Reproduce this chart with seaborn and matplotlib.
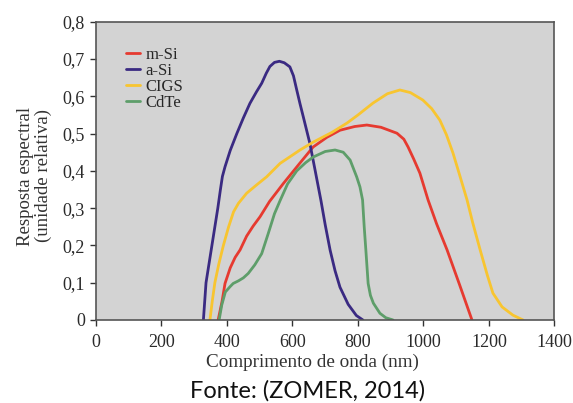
import pandas as pd
import matplotlib.pyplot as plt
import matplotlib.ticker as mticker
import seaborn as sns

# --- Data (wavelength nm, relative response) ---
msi_nm = [373, 385, 394, 410, 425, 440, 460, 480, 501, 530, 572, 620, 663, 705, 745, 790, 827, 870, 919, 940, 953, 970, 989, 1014, 1040, 1072, 1110, 1148]
msi_val = [0.0, 0.05, 0.098, 0.14, 0.168, 0.188, 0.225, 0.252, 0.277, 0.318, 0.366, 0.418, 0.464, 0.49, 0.509, 0.519, 0.523, 0.517, 0.501, 0.485, 0.464, 0.432, 0.394, 0.322, 0.258, 0.188, 0.095, 0.0]

asi_nm = [328, 336, 345, 354, 363, 372, 380, 386, 394, 410, 430, 450, 470, 490, 506, 520, 531, 545, 560, 575, 592, 603, 613, 623, 633, 653, 669, 687, 700, 715, 730, 745, 770, 795, 815]
asi_val = [0.0, 0.1, 0.15, 0.2, 0.25, 0.3, 0.35, 0.385, 0.411, 0.455, 0.5, 0.542, 0.581, 0.612, 0.635, 0.662, 0.68, 0.691, 0.694, 0.69, 0.679, 0.655, 0.617, 0.58, 0.545, 0.474, 0.402, 0.32, 0.255, 0.187, 0.132, 0.088, 0.042, 0.012, 0.0]

cigs_nm = [348, 355, 363, 375, 389, 405, 420, 435, 460, 490, 521, 562, 623, 663, 720, 766, 800, 846, 890, 928, 960, 998, 1025, 1050, 1070, 1090, 1110, 1133, 1150, 1173, 1195, 1212, 1240, 1273, 1304]
cigs_val = [0.0, 0.05, 0.1, 0.15, 0.2, 0.25, 0.29, 0.313, 0.34, 0.362, 0.384, 0.42, 0.456, 0.477, 0.503, 0.528, 0.55, 0.582, 0.607, 0.617, 0.61, 0.59, 0.567, 0.536, 0.497, 0.448, 0.39, 0.322, 0.262, 0.188, 0.12, 0.072, 0.035, 0.013, 0.0]

cdte_nm = [376, 384, 395, 409, 419, 435, 450, 465, 485, 506, 526, 545, 562, 585, 613, 640, 663, 700, 730, 755, 776, 796, 806, 814, 819, 824, 831, 838, 847, 867, 885, 907]
cdte_val = [0.0, 0.04, 0.075, 0.089, 0.098, 0.105, 0.113, 0.125, 0.148, 0.178, 0.232, 0.285, 0.32, 0.365, 0.40, 0.422, 0.437, 0.452, 0.456, 0.45, 0.429, 0.384, 0.357, 0.322, 0.25, 0.188, 0.098, 0.066, 0.045, 0.018, 0.006, 0.0]

series_names = ["m-Si", "a-Si", "CIGS", "CdTe"]
series_colors = ["#e63a30", "#3a2a82", "#f8c530", "#5e9e6a"]

frames = []
for name, xs, ys in zip(series_names,
                        [msi_nm, asi_nm, cigs_nm, cdte_nm],
                        [msi_val, asi_val, cigs_val, cdte_val]):
    frames.append(pd.DataFrame({"nm": xs, "val": ys, "cell": name}))
df = pd.concat(frames, ignore_index=True)

sns.set_style("ticks")
plt.rcParams["font.family"] = ["Liberation Serif", "DejaVu Serif"]

fig = plt.figure(figsize=(5.73, 4.03), dpi=100)
ax = fig.add_axes([0.1675, 0.206, 0.8002, 0.740])
ax.set_facecolor("#d3d3d3")

sns.lineplot(data=df, x="nm", y="val", hue="cell", hue_order=series_names,
             palette=series_colors, sort=False, estimator=None, units="cell",
             linewidth=2.0, ax=ax)

ax.set_xlim(0, 1400)
ax.set_ylim(0, 0.8)
ax.set_xticks(range(0, 1401, 200))
ax.set_yticks([i / 10 for i in range(9)])
ax.yaxis.set_major_formatter(mticker.FuncFormatter(
    lambda v, p: "0" if abs(v) < 1e-9 else f"{v:.1f}".replace(".", ",")))
ax.tick_params(direction="out", length=4, width=1, colors="#333333",
               labelsize=13, labelcolor="#2a2a2a")
ax.tick_params(axis="x", pad=6)
ax.tick_params(axis="y", pad=4)
for s in ax.spines.values():
    s.set_color("#555555")
    s.set_linewidth(1.2)

ax.set_xlabel("Comprimento de onda (nm)", fontsize=13.8, color="#333333")
ax.xaxis.set_label_coords(0.473, -0.113)
ax.set_ylabel("Resposta espectral\n(unidade relativa)", fontsize=13.5,
              color="#333333", linespacing=1.05)
ax.yaxis.set_label_coords(-0.095, 0.483)

leg = ax.legend(loc="upper left", bbox_to_anchor=(0.066, 0.915), frameon=False,
                fontsize=12, handlelength=0.8, handletextpad=0.35,
                labelspacing=0.0, borderaxespad=0, borderpad=0)
for line in leg.get_lines():
    line.set_linewidth(2.0)

fig.text(0.5375, 0.004, "Fonte: (ZOMER, 2014)", ha="center", va="bottom",
         fontsize=17, family=["Lato", "DejaVu Sans"], color="#111111")

fig.savefig("out.png", dpi=100)
